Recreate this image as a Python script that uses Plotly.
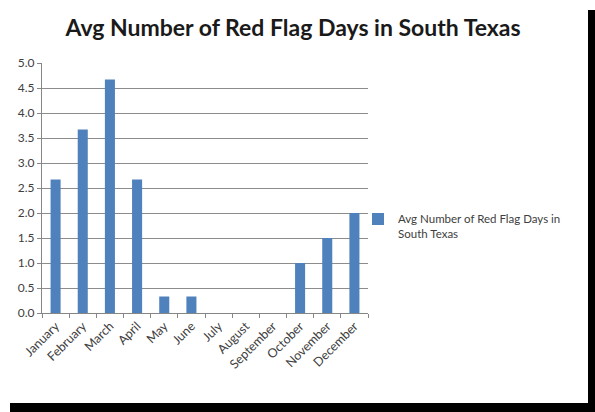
import plotly.graph_objects as go

months = ["January", "February", "March", "April", "May", "June", "July",
          "August", "September", "October", "November", "December"]
red_flag_days = [2.67, 3.67, 4.67, 2.67, 0.33, 0.33, 0, 0, 0, 1.0, 1.5, 2.0]
series_name = "Avg Number of Red Flag Days in<br>South Texas"
title_text = "Avg Number of Red Flag Days in South Texas"

W, H = 595, 412
L, R, T, B = 42, 227, 63, 99

def px_x(x):
    return (x - L) / (W - L - R)

def px_y(y):
    return 1 - (y - T) / (H - T - B)

fig = go.Figure()
fig.add_trace(go.Bar(
    x=months, y=red_flag_days, name=series_name,
    marker=dict(color="#4F81BD", line=dict(width=0)),
    width=0.37, showlegend=True,
))

font_family = "Lato, 'Noto Sans', sans-serif"

fig.update_layout(
    width=W, height=H,
    margin=dict(l=L, r=R, t=T, b=B, pad=0),
    paper_bgcolor="white", plot_bgcolor="white",
    font=dict(family=font_family, size=12, color="#404040"),
    title=dict(text="<b>" + title_text + "</b>", x=(293) / W, xanchor="center",
               y=1 - 28 / H, yanchor="middle",
               font=dict(size=23, color="#1a1a1a", family=font_family)),
    showlegend=True,
    legend=dict(x=px_x(358), xanchor="left", y=px_y(205), yanchor="top",
                bgcolor="rgba(0,0,0,0)", font=dict(size=11.5, color="#404040"),
                itemwidth=30, valign="top", tracegroupgap=0),
    xaxis=dict(type="category", tickangle=-45, showgrid=False,
               showline=True, linecolor="#868686", linewidth=1,
               ticks="outside", tickson="boundaries", ticklen=4,
               tickcolor="#868686", tickfont=dict(size=12.5, color="#404040")),
    yaxis=dict(range=[0, 5], dtick=0.5, tickformat=".1f", showgrid=True,
               gridcolor="#8c8c8c", gridwidth=1, showline=True,
               linecolor="#868686", linewidth=1, ticks="outside", ticklen=4,
               tickcolor="#868686", zeroline=False,
               tickfont=dict(size=12, color="#404040")),
    shapes=[
        dict(type="rect", xref="paper", yref="paper",
             x0=px_x(10), x1=px_x(595), y0=px_y(403), y1=px_y(412),
             fillcolor="black", line=dict(width=0), layer="above"),
        dict(type="rect", xref="paper", yref="paper",
             x0=px_x(588), x1=px_x(595), y0=px_y(10), y1=px_y(412),
             fillcolor="black", line=dict(width=0), layer="above"),
    ],
)

fig.write_html("out.html")
